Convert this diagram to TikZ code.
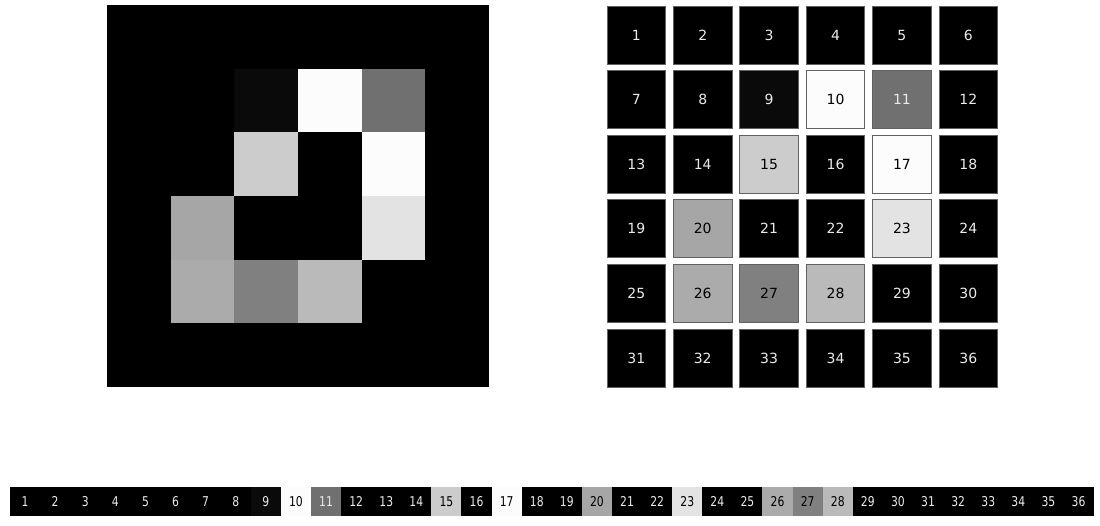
\documentclass[tikz,border=0pt]{standalone}
\usepackage{fontspec}
\setmainfont{DejaVu Sans}
\usetikzlibrary{positioning}

\begin{document}
\begin{tikzpicture}[x=1pt,y=-1pt,
  pix/.style={draw=none,inner sep=0pt,minimum width=63.9pt,minimum height=63.9pt},
  cell/.style={draw=black!62,line width=0.7pt,inner sep=0pt,minimum width=58.6pt,minimum height=58pt,font=\fontsize{14}{16}\selectfont},
  stripcell/.style={draw=none,inner sep=0pt,minimum width=30.15pt,minimum height=29pt,font=\fontsize{13.5}{16}\selectfont}]
  \useasboundingbox (0,0) rectangle (1100,525);
  % grey levels (percent white) of the 36 pixels
  \def\pixvals{0,0,0,0,0,0, 0,0,4,99,44,0, 0,0,80,0,99,0, 0,65,0,0,89,0, 0,67,50,73,0,0, 0,0,0,0,0,0}
  \foreach \v [count=\n] in \pixvals {
    \pgfmathtruncatemacro{\r}{int((\n-1)/6)}
    \pgfmathtruncatemacro{\c}{mod(\n-1,6)}
    \def\tc{black}\ifnum\v<50 \def\tc{white!92!black}\fi
    % left: the image
    \node[pix,fill=white!\v!black] (img-\n) at (107+63.67*\c+31.83, 5+63.67*\r+31.83) {};
    % right: numbered pixels
    \node[cell,fill=white!\v!black,text=\tc] (grid-\n) at (636.3+66.4*\c, 35+64.6*\r) {\n};
    % bottom: flattened row
    \node[stripcell,fill=white!\v!black,text=\tc] (flat-\n) at (10+30.1*\n-15.05, 501.5) {\scalebox{0.8}[1]{\n}};
  }
\end{tikzpicture}
\end{document}
